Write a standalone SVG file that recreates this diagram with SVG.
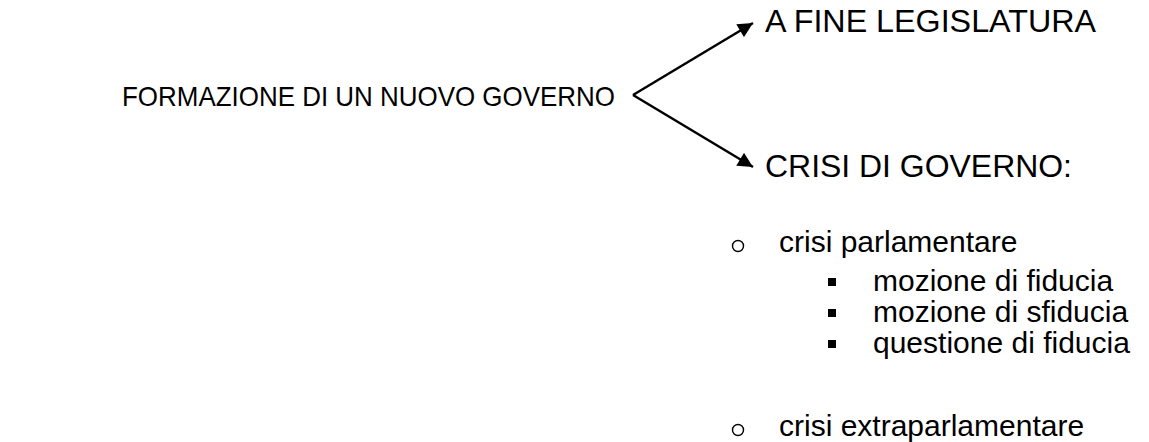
<svg xmlns="http://www.w3.org/2000/svg" width="1149" height="442" viewBox="0 0 1149 442">
  <style>
    text { font-family: "Liberation Sans", Arial, sans-serif; font-size: 30px; fill: #000; }
    .root { font-size: 28.5px; }
    .branch { font-size: 31px; }
    .link { stroke: #000; stroke-width: 2.5; fill: none; marker-end: url(#head); }
    .dot { fill: none; stroke: #000; stroke-width: 1.4; }
    .sq { fill: #000; }
  </style>
  <defs>
    <marker id="head" viewBox="0 0 10 10" refX="10" refY="5" markerWidth="7" markerHeight="6" markerUnits="strokeWidth" orient="auto">
      <path d="M0,0 L10,5 L0,10 Z" fill="#000"/>
    </marker>
  </defs>
  <rect width="1149" height="442" fill="#fff"/>

  <g id="formazione">
    <text class="root" x="122" y="106" textLength="493" lengthAdjust="spacingAndGlyphs">FORMAZIONE DI UN NUOVO GOVERNO</text>
  </g>

  <g id="fine-legislatura">
    <text class="branch" x="765" y="32" textLength="331" lengthAdjust="spacingAndGlyphs">A FINE LEGISLATURA</text>
  </g>

  <g id="crisi-governo">
    <text class="branch" x="765" y="177" textLength="307" lengthAdjust="spacingAndGlyphs">CRISI DI GOVERNO:</text>
  </g>

  <g id="crisi-parlamentare">
    <circle class="dot" cx="738" cy="246" r="5.5"/>
    <text x="779" y="252">crisi parlamentare</text>
    <rect class="sq" x="828" y="278" width="8" height="8"/>
    <text x="873" y="291">mozione di fiducia</text>
    <rect class="sq" x="828" y="309" width="8" height="8"/>
    <text x="873" y="322">mozione di sfiducia</text>
    <rect class="sq" x="828" y="340" width="8" height="8"/>
    <text x="873" y="353">questione di fiducia</text>
  </g>

  <g id="crisi-extraparlamentare">
    <circle class="dot" cx="738" cy="430" r="5.5"/>
    <text x="779" y="436">crisi extraparlamentare</text>
  </g>

  <g id="connectors">
    <path class="link" d="M633,95 L753,23"/>
    <path class="link" d="M633,95 L753,167"/>
  </g>
</svg>
